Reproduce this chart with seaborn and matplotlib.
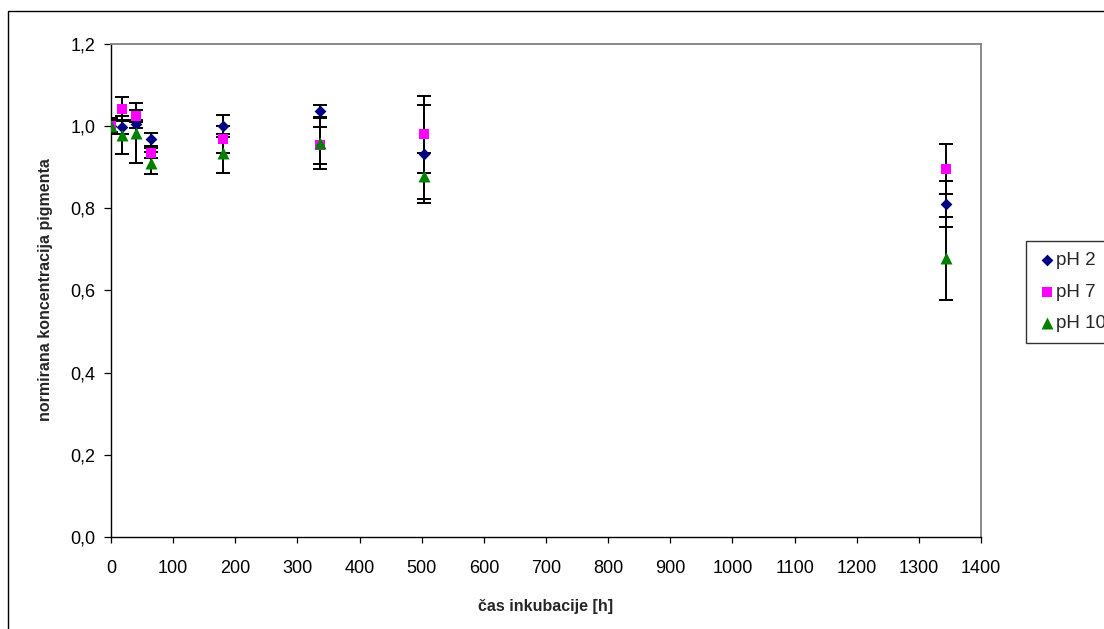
import numpy as np
import pandas as pd
import matplotlib
matplotlib.use("Agg")
import matplotlib.pyplot as plt
from matplotlib.patches import Rectangle
from matplotlib.ticker import FuncFormatter, MultipleLocator
import seaborn as sns

# incubation times [h]
hours = [0, 17, 40, 64, 180, 336, 504, 1344]

# normalised pigment concentration per pH, with standard deviations
ph2 = [1.000, 0.997, 1.005, 0.968, 1.000, 1.037, 0.932, 0.811]
ph2_err = [0.020, 0.015, 0.010, 0.016, 0.027, 0.015, 0.120, 0.056]

ph7 = [1.000, 1.043, 1.025, 0.935, 0.968, 0.953, 0.980, 0.896]
ph7_err = [0.015, 0.029, 0.015, 0.012, 0.033, 0.045, 0.093, 0.060]

ph10 = [1.000, 0.978, 0.983, 0.910, 0.934, 0.958, 0.879, 0.678]
ph10_err = [0.020, 0.046, 0.073, 0.027, 0.047, 0.062, 0.056, 0.100]

series_names = ["pH 2", "pH 7", "pH 10"]
colors = {"pH 2": "#000080", "pH 7": "#FF00FF", "pH 10": "#008000"}
markers = {"pH 2": "D", "pH 7": "s", "pH 10": "^"}
sizes = {"pH 2": 36, "pH 7": 58, "pH 10": 74}

df = pd.concat([
    pd.DataFrame({"t": hours, "c": ph2, "err": ph2_err, "series": "pH 2"}),
    pd.DataFrame({"t": hours, "c": ph7, "err": ph7_err, "series": "pH 7"}),
    pd.DataFrame({"t": hours, "c": ph10, "err": ph10_err, "series": "pH 10"}),
], ignore_index=True)

sns.set_theme(style="white")
plt.rcParams["font.family"] = ["Liberation Sans", "DejaVu Sans"]

W, H = 1104, 629
fig = plt.figure(figsize=(W / 100, H / 100), dpi=100)
ax = fig.add_axes([111 / W, 1 - 537 / H, (981 - 111) / W, (537 - 44) / H])

# error bars underneath the markers
for name in series_names:
    sub = df[df["series"] == name]
    ax.errorbar(sub["t"], sub["c"], yerr=sub["err"], fmt="none",
                ecolor="black", elinewidth=1.4, capsize=4.7, capthick=1.4,
                zorder=2)

# markers, one series after the other
for name in series_names:
    sub = df[df["series"] == name]
    sns.scatterplot(data=sub, x="t", y="c", ax=ax, color=colors[name],
                    marker=markers[name], s=sizes[name], linewidth=0,
                    zorder=3, label=name, legend=False)

ax.set_xlim(0, 1400)
ax.set_ylim(0, 1.2)
ax.xaxis.set_major_locator(MultipleLocator(100))
ax.yaxis.set_major_locator(MultipleLocator(0.2))
ax.yaxis.set_major_formatter(FuncFormatter(lambda v, p: f"{v:.1f}".replace(".", ",")))

for side in ["left", "bottom"]:
    ax.spines[side].set_color("black")
    ax.spines[side].set_linewidth(1.0)
for side in ["top", "right"]:
    ax.spines[side].set_color("#808080")
    ax.spines[side].set_linewidth(1.3)

ax.tick_params(axis="both", which="major", direction="out", width=0.9,
               color="black", labelsize=13, labelcolor="black")
ax.tick_params(axis="x", bottom=True, length=4.3, pad=12)
ax.tick_params(axis="y", left=True, length=5.0, pad=6)

ax.set_xlabel("čas inkubacije [h]", fontsize=11.5, fontweight="bold")
ax.set_ylabel("normirana koncentracija pigmenta", fontsize=11.5,
              fontweight="bold")
ax.xaxis.set_label_coords((546 - 111) / (981 - 111), -(599 - 537) / (537 - 44))
ax.yaxis.set_label_coords(-(111 - 53) / (981 - 111), (537 - 290) / (537 - 44))

# legend box, partly running past the right edge
handles, labels = ax.get_legend_handles_labels()
leg = fig.legend(handles, labels, loc="upper left",
                 bbox_to_anchor=(1026 / W, 1 - 241 / H),
                 frameon=True, fancybox=False, shadow=False,
                 fontsize=13.5, handletextpad=0.0, handlelength=1.0,
                 borderpad=0.6, labelspacing=0.76, borderaxespad=0)
leg.get_frame().set_edgecolor("black")
leg.get_frame().set_linewidth(1.0)

# outer chart border
fig.patches.append(Rectangle((7.5 / W, -0.1), 1.2, 1.1 - 11 / H,
                             transform=fig.transFigure, fill=False,
                             edgecolor="black", linewidth=1.0, zorder=0))

fig.savefig("out.png", dpi=100)
